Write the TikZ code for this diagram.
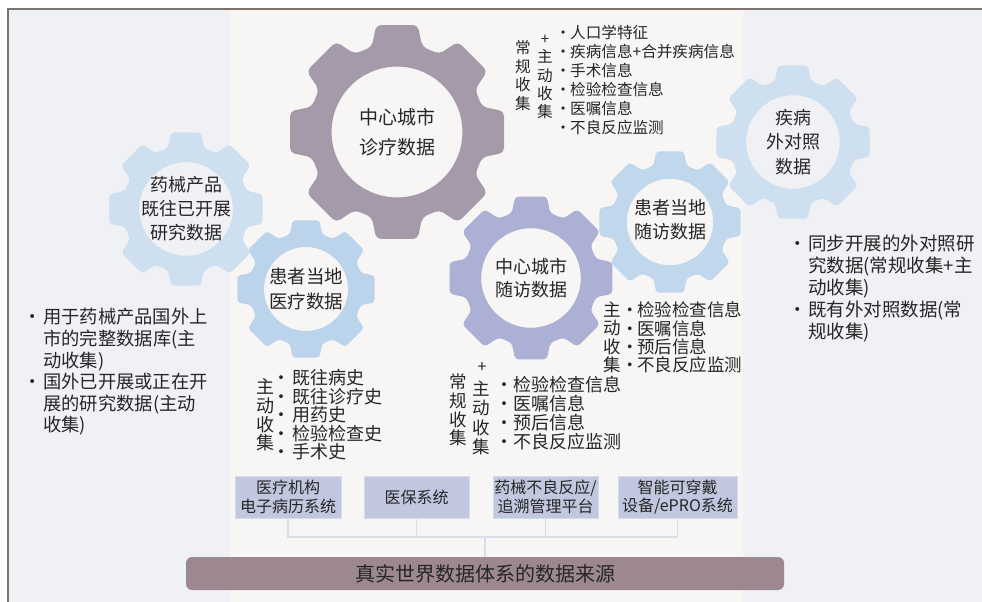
\documentclass[tikz,border=0pt]{standalone}
\usepackage{fontspec}
\setmainfont{Noto Sans CJK SC}
\definecolor{framebg}{HTML}{F0F1F5}
\definecolor{panelbg}{HTML}{F7F6F5}
\definecolor{framedraw}{HTML}{7D726C}
\definecolor{gearmauve}{HTML}{A59AAA}
\definecolor{gearpale}{HTML}{CEE0F0}
\definecolor{gearblue}{HTML}{BCD4EB}
\definecolor{gearlav}{HTML}{ADB0D5}
\definecolor{gearsky}{HTML}{C0D7EC}
\definecolor{boxfill}{HTML}{C1C7DF}
\definecolor{boxdraw}{HTML}{D6DAEA}
\definecolor{barfill}{HTML}{9D8891}
\definecolor{linkcol}{HTML}{D9DDE8}
\definecolor{txt}{HTML}{262626}
\newcommand\bul[1]{\makebox[#1][c]{·}}
\newcommand\fs[2]{\fontsize{#1}{#2}\selectfont}
\newcommand\drawgear[5]{%
  \begin{scope}[shift={(#2,#3)}]
    \pgfmathsetmacro\gR{#4}%
    \pgfmathsetmacro\gB{0.815*#4}%
    \pgfmathsetmacro\gH{0.6*#4}%
    \pgfmathsetmacro\gC{0.045*#4}%
    \fill[#5, even odd rule, rounded corners=\gC pt]
      (-16.5:\gB) -- (-11:\gR) -- (11:\gR) -- (16.5:\gB)
      \foreach \k in {1,...,7}{ -- ({45*\k-16.5}:\gB) -- ({45*\k-11}:\gR) -- ({45*\k+11}:\gR) -- ({45*\k+16.5}:\gB)} -- cycle
      (0,0) circle (\gH);
    \coordinate (#1) at (0,0);
  \end{scope}}
\begin{document}
\begin{tikzpicture}[x=1pt,y=-1pt,
  every node/.style={text=txt, inner sep=0pt},
  glabel/.style={align=center, font=\fs{18}{24}},
  vcol/.style={align=center},
  blist/.style={anchor=west, align=left},
  srcbox/.style={fill=boxfill, draw=boxdraw, line width=1pt, align=center, font=\fs{16}{18.5}, minimum height=42pt},
  link/.style={draw=linkcol, line width=1.5pt}]
\useasboundingbox (0,0) rectangle (982,602);
\fill[white] (0,0) rectangle (982,602);
\fill[framebg] (8,9) rectangle (982,602);
\fill[panelbg] (230,10) rectangle (743,602);
\draw[framedraw, line width=1.5pt] (8,602) -- (8,9) -- (982,9);

% gears
\drawgear{gYX}{186}{209}{78}{gearpale}
\drawgear{gJB}{793}{142}{78}{gearpale}
\drawgear{gSF}{670}{222}{72}{gearsky}
\drawgear{gZL}{397}{132}{109}{gearmauve}
\drawgear{gYL}{306}{289}{70}{gearblue}
\drawgear{gSZ}{531}{278}{83}{gearlav}

\node[glabel, font=\fs{19}{30}] (tZL) at (gZL) {中心城市\\诊疗数据};
\node[glabel] (tYX) at (gYX) {药械产品\\既往已开展\\研究数据};
\node[glabel, font=\fs{18.5}{25}] (tYL) at (gYL) {患者当地\\医疗数据};
\node[glabel, font=\fs{18}{23.5}] (tSZ) at (gSZ) {中心城市\\随访数据};
\node[glabel, font=\fs{18}{24}] (tSF) at (670,220) {患者当地\\随访数据};
\node[glabel, font=\fs{18}{24.5}] (tJB) at (gJB) {疾病\\外对照\\数据};

% list A (top)
\node[vcol, font=\fs{15.6}{18.7}] (cA1) at (523,75.5) {常\\规\\收\\集};
\node[font=\fs{15}{18}] (pA) at (545,40) {+};
\node[vcol, font=\fs{15.6}{18.3}] (cA2) at (545,84.5) {主\\动\\收\\集};
\node[blist, font=\fs{15.6}{19}] (lA) at (556,80.5) {\bul{14pt}人口学特征\\\bul{14pt}疾病信息+合并疾病信息\\\bul{14pt}手术信息\\\bul{14pt}检验检查信息\\\bul{14pt}医嘱信息\\\bul{14pt}不良反应监测};

% list B (right middle)
\node[vcol, font=\fs{17.5}{18.3}] (cB) at (612,337.5) {主\\动\\收\\集};
\node[blist, font=\fs{17.5}{18.3}] (lB) at (623,337.5) {\bul{14pt}检验检查信息\\\bul{14pt}医嘱信息\\\bul{14pt}预后信息\\\bul{14pt}不良反应监测};

% list C (bottom middle)
\node[vcol, font=\fs{17.5}{18.7}] (cC1) at (458,410) {常\\规\\收\\集};
\node[font=\fs{16}{18}] (pC) at (482,368) {+};
\node[vcol, font=\fs{17.5}{19.5}] (cC2) at (481,418) {主\\动\\收\\集};
\node[blist, font=\fs{18}{19}] (lC) at (495,413.5) {\bul{18pt}检验检查信息\\\bul{18pt}医嘱信息\\\bul{18pt}预后信息\\\bul{18pt}不良反应监测};

% list D (bottom left)
\node[vcol, font=\fs{18}{18.7}] (cD) at (265,415) {主\\动\\收\\集};
\node[blist, font=\fs{18}{18.5}] (lD) at (270,415) {\bul{22pt}既往病史\\\bul{22pt}既往诊疗史\\\bul{22pt}用药史\\\bul{22pt}检验检查史\\\bul{22pt}手术史};

% left block
\node[blist, font=\fs{18.3}{21.6}] (lE) at (21,372) {\bul{22pt}用于药械产品国外上\\\hspace*{22pt}市的完整数据库(主\\\hspace*{22pt}动收集)\\\bul{22pt}国外已开展或正在开\\\hspace*{22pt}展的研究数据(主动\\\hspace*{22pt}收集)};

% right block
\node[blist, font=\fs{18.5}{21.8}] (lF) at (788,288.5) {\bul{20pt}同步开展的外对照研\\\hspace*{20pt}究数据(常规收集+主\\\hspace*{20pt}动收集)\\\bul{20pt}既有外对照数据(常\\\hspace*{20pt}规收集)};

% source boxes
\node[srcbox, minimum width=106pt] (b1) at (288,497) {医疗机构\\电子病历系统};
\node[srcbox, minimum width=105pt] (b2) at (416.5,497) {医保系统};
\node[srcbox, minimum width=105pt] (b3) at (545.5,497) {药械不良反应/\\追溯管理平台};
\node[srcbox, minimum width=119pt] (b4) at (677.5,497) {智能可穿戴\\设备/ePRO系统};

\node[fill=barfill, rounded corners=6pt, minimum width=598pt, minimum height=33pt, font=\fs{20}{24}] (bar) at (485,573.5) {真实世界数据体系的数据来源};

\coordinate (hub) at (485,537);
\draw[link] (b1.south) -- (b1.south |- hub) -- (b4.south |- hub) -- (b4.south);
\draw[link] (b2.south) -- (b2.south |- hub);
\draw[link] (b3.south) -- (b3.south |- hub);
\draw[link] (hub) -- (bar.north);
\end{tikzpicture}
\end{document}
